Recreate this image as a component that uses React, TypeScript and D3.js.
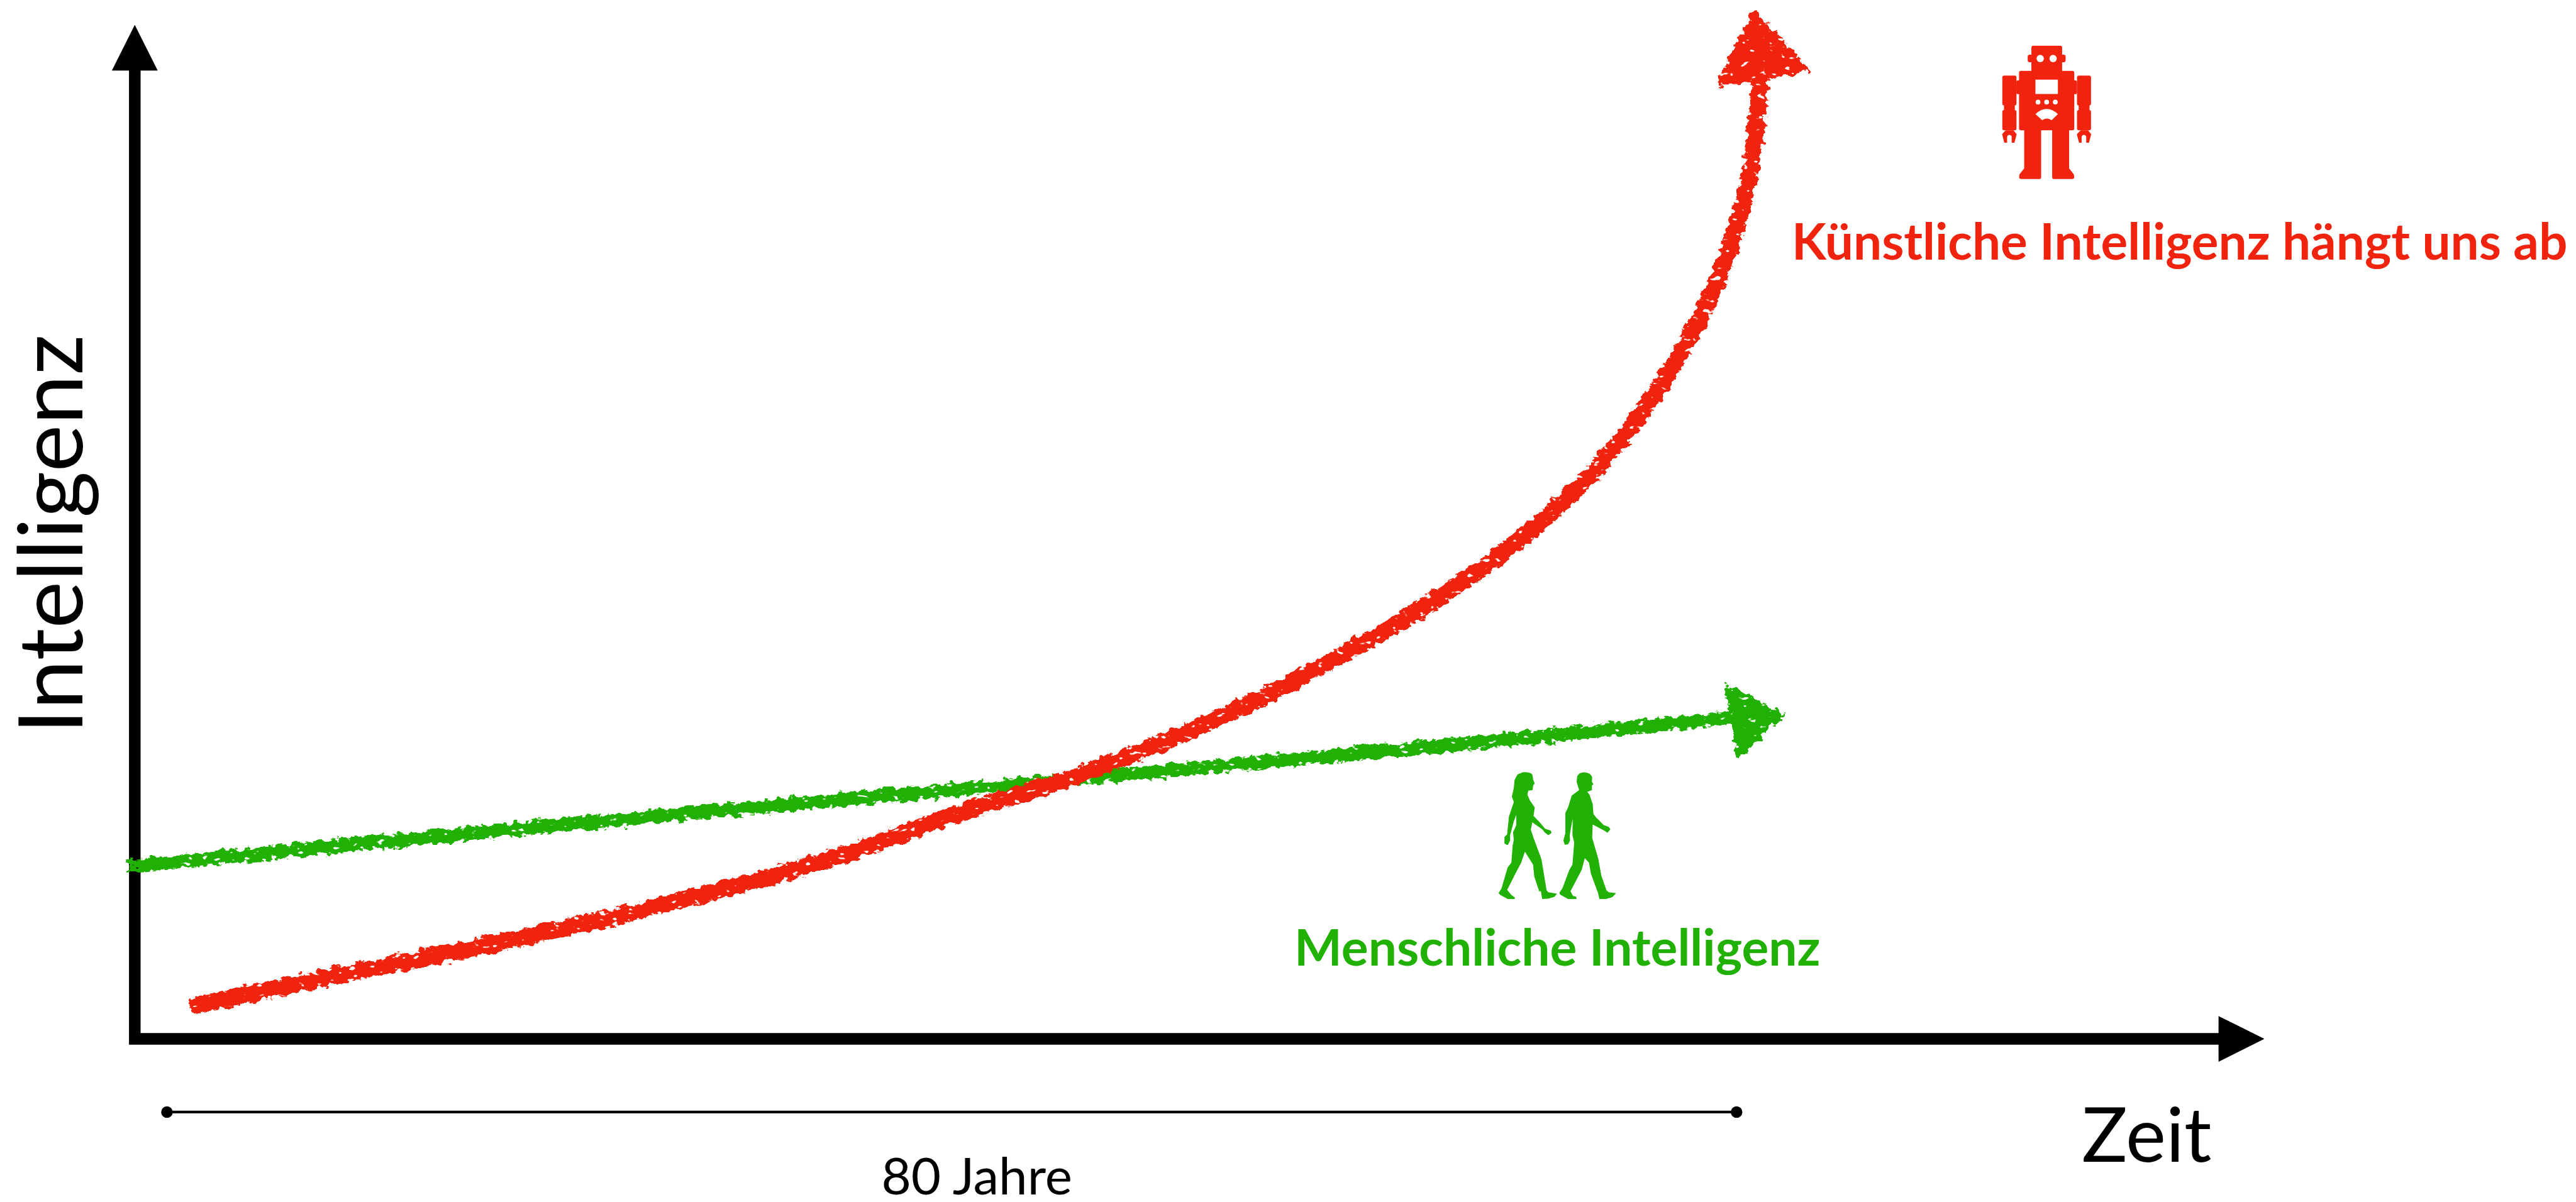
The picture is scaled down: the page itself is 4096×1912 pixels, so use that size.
import React from "react";
import * as d3 from "d3";

const W = 4665, H = 2178;
const RED = "#f0240e", GREEN = "#21b004";

// time in years, intelligence on a free 0-100 index
const aiYears = [1.2, 8.3, 16.7, 25, 33.4, 40, 46, 51.8, 58.5, 64.4, 69.4, 73.6, 76.9, 79.2, 80.7, 81.2];
const aiLevel = [3.2, 6.1, 9.4, 13.1, 17.5, 22, 25.7, 30.1, 36.4, 43, 50, 57.9, 66.8, 75.7, 85.4, 95];
const humanYears = [-2, 20, 45, 65, 80];
const humanLevel = [17, 21.1, 25.4, 28.9, 31.7];
const aiHeadYears = [80.9, 83.6, 79.1];
const aiHeadLevel = [101.2, 95.6, 94.2];
const humanHeadYears = [79.5, 82.3, 80.1];
const humanHeadLevel = [34.7, 31.9, 27.9];
const axisYearsEnd = 106.9;
const axisLevelEnd = 100;
const axisYearsStart = -1.64;
const spanYears = [0, 80];

const x = d3.scaleLinear().domain([0, 80]).range([302, 3145]);
const y = d3.scaleLinear().domain([0, 100]).range([1882.5, 45]);

const smooth = d3.line<[number, number]>().x(d => x(d[0])).y(d => y(d[1])).curve(d3.curveCatmullRom.alpha(0.5));
const poly = d3.line<[number, number]>().x(d => x(d[0])).y(d => y(d[1])).curve(d3.curveLinearClosed);
const zip = (a: number[], b: number[]) => a.map((v, i) => [v, b[i]] as [number, number]);

const robotRects = [
  [537, 249, 167, 145], [517, 297, 206, 41], [470, 385, 300, 323], [455, 437, 330, 75],
  [379, 411, 77, 162], [379, 598, 77, 110], [388, 565, 59, 40],
  [785, 411, 76, 162], [785, 598, 76, 110], [794, 565, 59, 40],
];
const robotPaths = [
  "M498 700L498 915L472 948L470 965Q471 973 480 973L583 973Q590 973 590 965L590 700Z",
  "M650 700L650 965Q650 973 657 973L760 973Q769 973 770 965L768 948L742 915L742 700Z",
  "M397 708L378 730L390 776L405 776L405 742Q417 725 430 742L430 776L445 776L457 730L440 708Z",
  "M805 708L784 730L796 776L810 776L810 742Q822 725 835 742L835 776L850 776L862 730L845 708Z",
];
const robotHoles = "M559 620Q620 565 681 620L647 654Q620 635 596 654Z";
const robotDots = [[585, 318, 20], [655, 318, 20], [573, 555, 13], [620, 555, 13], [667, 555, 13]];

const woman = "M240 658Q270 655 280 670L284 700L290 720L284 728L281 755L264 758L260 780L270 810L290 850L285 895L310 930L332 965L355 975L358 988L345 1000L330 985L322 970L280 930L274 970L285 1015L317 1130L338 1300L345 1310L380 1318L370 1335L345 1345L320 1347L315 1305L308 1305L288 1225L283 1160L250 1090L235 1150L215 1200L178 1297L195 1325L210 1340L208 1347L180 1347L150 1325L143 1315L155 1290L180 1175L195 1150L200 1060L205 1025L202 985L215 945L215 890L205 925L190 1000L190 1030L180 1055L167 1045L167 1010L178 995L185 900L205 820L197 790L205 745L208 700L220 670Z";
const man = "M490 658Q518 660 523 685L522 710L528 722L522 730L522 755L503 765L512 780L525 830L528 885L540 905L570 945L590 955L597 968L585 987L572 975L525 942L523 1015L548 1130L560 1220L581 1300L590 1310L620 1315L605 1337L580 1347L552 1347L547 1315L518 1210L510 1150L493 1125L480 1190L435 1305L445 1330L458 1335L460 1347L425 1347L392 1322L390 1312L402 1290L430 1190L443 1160L450 1040L443 1000L444 910L437 960L432 1000L433 1030L425 1050L412 1052L406 1030L414 990L414 880L425 850L440 785L470 755L460 710L462 680Q470 658 490 658Z";

const font = "Lato, 'Open Sans', sans-serif";

export default function App() {
  const x0 = x(axisYearsStart), y0 = y(0), xEnd = x(axisYearsEnd), yEnd = y(axisLevelEnd);
  return (
    <svg width={4096} height={1912} viewBox={`0 0 ${W} ${H}`} style={{ position: "absolute", left: 0, top: 0, background: "#fff" }}>
      <defs>
        <filter id="rough" x={0} y={0} width={W} height={H} filterUnits="userSpaceOnUse" colorInterpolationFilters="sRGB">
          <feTurbulence type="fractalNoise" baseFrequency="0.07 0.09" numOctaves={3} seed={4} result="n" />
          <feDisplacementMap in="SourceGraphic" in2="n" scale={20} xChannelSelector="R" yChannelSelector="G" result="d" />
          <feTurbulence type="fractalNoise" baseFrequency="0.06 0.1" numOctaves={2} seed={11} result="h" />
          <feColorMatrix in="h" type="matrix" values="0 0 0 0 0  0 0 0 0 0  0 0 0 0 0  -14 0 0 0 10.8" result="mask" />
          <feComposite in="d" in2="mask" operator="in" />
        </filter>
      </defs>

      {/* axes */}
      <path d={`M${x0} ${yEnd + 60}V${y0}H${xEnd - 60}`} fill="none" stroke="#000" strokeWidth={21} strokeLinejoin="miter" />
      <polygon points={`${x0},${yEnd} ${x0 + 41.5},${yEnd + 83} ${x0 - 41.5},${yEnd + 83}`} fill="#000" />
      <polygon points={`${xEnd},${y0} ${xEnd - 83},${y0 - 41.5} ${xEnd - 83},${y0 + 41.5}`} fill="#000" />

      {/* human */}
      <g filter="url(#rough)">
        <path d={smooth(zip(humanYears, humanLevel))!} fill="none" stroke={GREEN} strokeWidth={24} />
        <path d={poly(zip(humanHeadYears, humanHeadLevel))!} fill={GREEN} stroke={GREEN} strokeWidth={8} strokeLinejoin="round" />
      </g>
      {/* ai */}
      <g filter="url(#rough)">
        <path d={smooth(zip(aiYears, aiLevel))!} fill="none" stroke={RED} strokeWidth={30} />
        <path d={poly(zip(aiHeadYears, aiHeadLevel))!} fill={RED} stroke={RED} strokeWidth={8} strokeLinejoin="round" />
      </g>

      {/* span */}
      <line x1={x(spanYears[0])} x2={x(spanYears[1])} y1={2015} y2={2015} stroke="#000" strokeWidth={5} />
      {spanYears.map(t => <circle key={t} cx={x(t)} cy={2015} r={10.5} fill="#000" />)}

      {/* robot */}
      <g transform="translate(3500 0) scale(0.3333)" fill={RED}>
        {robotRects.map((r, i) => <rect key={i} x={r[0]} y={r[1]} width={r[2]} height={r[3]} rx={10} />)}
        {robotPaths.map((p, i) => <path key={i} d={p} />)}
        <rect x={559} y={433} width={122} height={78} fill="#fff" />
        <path d={robotHoles} fill="#fff" />
        {robotDots.map((c, i) => <circle key={i} cx={c[0]} cy={c[1]} r={c[2]} fill="#fff" />)}
      </g>

      {/* people */}
      <g transform="translate(2650 1180) scale(0.4464 0.3333)" fill={GREEN}>
        <path d={woman} />
        <path d={man} />
      </g>

      {/* text */}
      <g fontFamily={font}>
        <text transform="translate(149 1330) rotate(-90)" fontSize={162} fill="#000">Intelligenz</text>
        <text x={3770} y={2105} fontSize={138} fill="#000">Zeit</text>
        <text x={1596} y={2164} fontSize={93} fill="#000">80 Jahre</text>
        <text x={3245} y={470} fontSize={91.2} fontWeight={700} fill={RED}>Künstliche Intelligenz hängt uns ab</text>
        <text x={2344} y={1750} fontSize={91.5} fontWeight={700} fill={GREEN}>Menschliche Intelligenz</text>
      </g>
    </svg>
  );
}
